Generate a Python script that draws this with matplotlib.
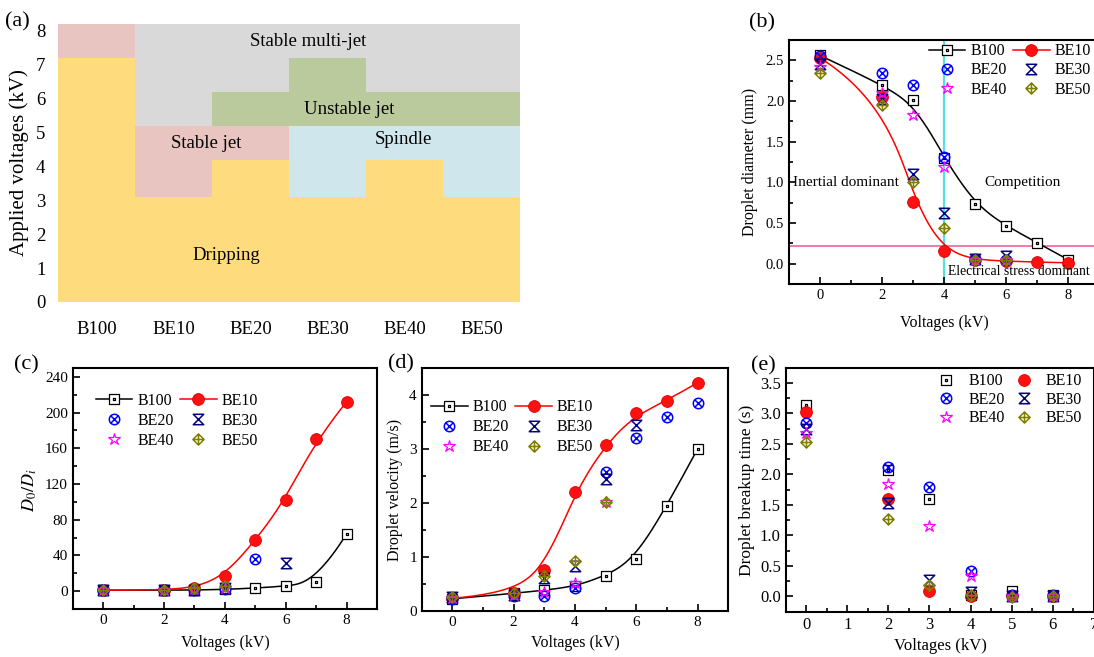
import numpy as np
import matplotlib
matplotlib.use('Agg')
import matplotlib.pyplot as plt
from matplotlib.path import Path
from matplotlib.lines import Line2D
from matplotlib.ticker import MultipleLocator

plt.rcParams['font.family'] = ['Liberation Serif', 'DejaVu Serif']
plt.rcParams['mathtext.fontset'] = 'stix'

# ---------------- data ----------------
# (a) operating regimes, stacked segment heights (kV)
categories = ['B100', 'BE10', 'BE20', 'BE30', 'BE40', 'BE50']
dripping = [7.2, 3.1, 4.2, 3.1, 4.2, 3.1]
stable_jet = [1.0, 2.1, 1.0, 0.0, 0.0, 0.0]
spindle = [0.0, 0.0, 0.0, 2.1, 1.0, 2.1]
unstable_jet = [0.0, 0.0, 1.0, 2.0, 1.0, 1.0]
multi_jet = [0.0, 3.0, 2.0, 1.0, 2.0, 2.0]
y_ticks_a = [0, 1, 2, 3, 4, 5, 6, 7, 8]

series_names = ['B100', 'BE10', 'BE20', 'BE30', 'BE40', 'BE50']

# (b) droplet diameter (mm)
volt_b_full = [0, 2, 3, 4, 5, 6, 7, 8]
diam_B100 = [2.56, 2.20, 2.01, 1.30, 0.73, 0.46, 0.26, 0.05]
diam_BE10 = [2.53, 2.05, 0.76, 0.16, 0.05, 0.03, 0.02, 0.01]
volt_b_part = [0, 2, 3, 4, 5, 6]
diam_BE20 = [2.55, 2.34, 2.20, 1.31, 0.06, 0.05]
diam_BE30 = [2.46, 2.03, 1.10, 0.62, 0.06, 0.10]
diam_BE40 = [2.42, 2.10, 1.83, 1.19, 0.05, 0.05]
diam_BE50 = [2.35, 1.95, 1.00, 0.44, 0.05, 0.05]
threshold_voltage = 4.0
threshold_diameter = 0.22

# (c) D0/Di
volt_c_full = [0, 2, 3, 4, 5, 6, 7, 8]
ratio_B100 = [1, 1.1, 1.3, 1.9, 3.5, 5.5, 10, 64]
ratio_BE10 = [1, 1.2, 3.3, 17.5, 57, 102, 170, 212]
volt_c_BE20 = [0, 2, 3, 4, 5]
ratio_BE20 = [1, 1, 1.2, 1.9, 36]
volt_c_BE30 = [0, 2, 3, 4, 6]
ratio_BE30 = [1, 1, 1.5, 4, 31]
volt_c_rest = [0, 2, 3, 4]
ratio_BE40 = [1, 1, 2, 3]
ratio_BE50 = [1, 1, 3, 6]

# (d) droplet velocity (m/s)
volt_d_full = [0, 2, 3, 4, 5, 6, 7, 8]
vel_B100 = [0.22, 0.32, 0.38, 0.45, 0.65, 0.96, 1.95, 3.00]
vel_BE10 = [0.23, 0.33, 0.75, 2.21, 3.08, 3.66, 3.89, 4.23]
vel_BE20 = [0.22, 0.27, 0.27, 0.42, 2.57, 3.20, 3.60, 3.86]
volt_d_BE30 = [0, 2, 3, 4, 5, 6]
vel_BE30 = [0.25, 0.30, 0.60, 0.83, 2.44, 3.45]
volt_d_rest = [0, 2, 3, 4, 5]
vel_BE40 = [0.24, 0.30, 0.35, 0.52, 2.02]
vel_BE50 = [0.25, 0.32, 0.65, 0.92, 2.02]

# (e) droplet breakup time (s)
volt_e = [0, 2, 3, 4, 5, 6]
time_B100 = [3.14, 2.08, 1.59, 0.02, 0.09, 0.03]
time_BE10 = [3.03, 1.60, 0.09, 0.00, 0.00, 0.00]
time_BE20 = [2.84, 2.12, 1.79, 0.42, 0.02, 0.03]
time_BE30 = [2.75, 1.53, 0.27, 0.08, 0.00, 0.01]
time_BE40 = [2.68, 1.85, 1.15, 0.34, 0.00, 0.00]
time_BE50 = [2.54, 1.27, 0.19, 0.02, -0.01, 0.00]

# ---------------- markers & styles ----------------
M, L, C = Path.MOVETO, Path.LINETO, Path.CLOSEPOLY
sq_dot = Path([(-1, -1), (1, -1), (1, 1), (-1, 1), (-1, -1),
               (-0.12, -0.12), (0.12, -0.12), (0.12, 0.12), (-0.12, 0.12), (-0.12, -0.12)],
              [M, L, L, L, C, M, L, L, L, C])
circ = Path.unit_circle()
d = 0.7071
circ_x = Path.make_compound_path(circ, Path([(-d, -d), (d, d)], [M, L]),
                                 Path([(-d, d), (d, -d)], [M, L]))
hourglass = Path([(-1, 1), (1, 1), (-1, -1), (1, -1), (-1, 1)], [M, L, L, L, C])
diamond_plus = Path([(0, 1), (1, 0), (0, -1), (-1, 0), (0, 1),
                     (0, 1), (0, -1), (-1, 0), (1, 0)],
                    [M, L, L, L, C, M, L, M, L])

styles = {
    'B100': dict(marker=sq_dot, ms=6.5, mfc='white', mec='black', mew=0.9),
    'BE10': dict(marker='o', ms=8.5, mfc='#ff1010', mec='#e00000', mew=0.6),
    'BE20': dict(marker=circ_x, ms=7.5, mfc='none', mec='#0000ff', mew=1.1),
    'BE30': dict(marker=hourglass, ms=7.5, mfc='none', mec='#000080', mew=1.1),
    'BE40': dict(marker='*', ms=9, mfc='none', mec='#ff00ff', mew=0.9),
    'BE50': dict(marker=diamond_plus, ms=8, mfc='none', mec='#808000', mew=1.1),
}
line_colors = {'B100': 'black', 'BE10': 'red'}


def bspline(x, y, num=300, k=3):
    P = np.column_stack([x, y]).astype(float)
    n = len(P)
    k = min(k, n - 1)
    knots = np.concatenate([np.zeros(k), np.linspace(0, 1, n - k + 1), np.ones(k)])
    t = np.linspace(0, 1, num)
    t[-1] = 1 - 1e-10
    B = np.zeros((num, len(knots) - 1))
    for i in range(len(knots) - 1):
        B[:, i] = (knots[i] <= t) & (t < knots[i + 1])
    for dd in range(1, k + 1):
        Bn = np.zeros((num, len(knots) - 1 - dd))
        for i in range(len(knots) - 1 - dd):
            a = knots[i + dd] - knots[i]
            b = knots[i + dd + 1] - knots[i + 1]
            term = np.zeros(num)
            if a > 0:
                term += (t - knots[i]) / a * B[:, i]
            if b > 0:
                term += (knots[i + dd + 1] - t) / b * B[:, i + 1]
            Bn[:, i] = term
        B = Bn
    return B @ P


W, H = 1094, 657
fig = plt.figure(figsize=(W / 100, H / 100), dpi=100)


def px_axes(l, t, r, b):
    return fig.add_axes([l / W, 1 - b / H, (r - l) / W, (b - t) / H])


def ftext(x, y, s, **kw):
    fig.text(x / W, 1 - y / H, s, **kw)


def style_axes(ax, labelsize):
    for sp in ax.spines.values():
        sp.set_linewidth(1.5)
    ax.tick_params(which='both', direction='in', top=False, right=False,
                   labelsize=labelsize, width=1.2)
    ax.tick_params(which='major', length=5)
    ax.tick_params(which='minor', length=3)


def plot_series(ax, name, x, y, with_line=False):
    st = styles[name]
    if with_line:
        cur = bspline(x, y)
        ax.plot(cur[:, 0], cur[:, 1], color=line_colors[name], lw=1.1, zorder=2)
    ax.plot(x, y, linestyle='none', zorder=3, **st)


def make_handles(with_lines):
    hs = {}
    for n in series_names:
        ls = '-' if (with_lines and n in line_colors) else 'none'
        hs[n] = Line2D([], [], linestyle=ls, color=line_colors.get(n, 'k'), lw=1.1, **styles[n])
    order = ['B100', 'BE20', 'BE40', 'BE10', 'BE30', 'BE50']
    return [hs[o] for o in order], order


# ---------------- (a) ----------------
axa = px_axes(58, 24, 520, 302)
xa = np.arange(len(categories))
seg_colors = ['#FEDC7D', '#E9C5C1', '#CFE6EC', '#BBCA9C', '#D9D9D9']
bottom = np.zeros(len(categories))
for seg, col in zip([dripping, stable_jet, spindle, unstable_jet, multi_jet], seg_colors):
    axa.bar(xa, seg, width=1.0, bottom=bottom, color=col, linewidth=0)
    bottom += np.array(seg)
axa.set_xlim(-0.5, 5.5)
axa.set_ylim(0, 8.2)
for sp in axa.spines.values():
    sp.set_visible(False)
axa.set_xticks(xa)
axa.set_xticklabels(categories)
axa.set_yticks(y_ticks_a)
axa.tick_params(length=0, labelsize=13.5)
axa.tick_params(axis='x', pad=14)
axa.tick_params(axis='y', pad=9)
axa.set_ylabel('Applied voltages (kV)', fontsize=15, labelpad=5)
for s, x, y in [('Stable multi-jet', 2.75, 7.67), ('Unstable jet', 3.28, 5.69),
                ('Stable jet', 1.42, 4.68), ('Spindle', 3.99, 4.8), ('Dripping', 1.69, 1.36)]:
    axa.text(x, y, s, ha='center', va='center', fontsize=13.5)

# ---------------- (b) ----------------
axb = px_axes(789, 40, 1099, 284)
axb.axvline(threshold_voltage, color='#55E0E8', lw=1.6, zorder=1.5)
axb.axhline(threshold_diameter, color='#F06EAA', lw=1.3, zorder=1.5)
plot_series(axb, 'B100', volt_b_full, diam_B100, True)
plot_series(axb, 'BE10', volt_b_full, diam_BE10, True)
plot_series(axb, 'BE20', volt_b_part, diam_BE20)
plot_series(axb, 'BE30', volt_b_part, diam_BE30)
plot_series(axb, 'BE40', volt_b_part, diam_BE40)
plot_series(axb, 'BE50', volt_b_part, diam_BE50)
axb.set_xlim(-1, 9)
axb.set_ylim(-0.25, 2.75)
axb.set_xticks([0, 2, 4, 6, 8])
axb.xaxis.set_minor_locator(MultipleLocator(1))
axb.set_yticks([0, 0.5, 1.0, 1.5, 2.0, 2.5])
axb.yaxis.set_minor_locator(MultipleLocator(0.25))
axb.yaxis.set_major_formatter(matplotlib.ticker.FormatStrFormatter('%.1f'))
style_axes(axb, 10.5)
axb.text(0.83, 1.0, 'Inertial dominant', ha='center', va='center', fontsize=11)
axb.text(6.55, 1.0, 'Competition', ha='center', va='center', fontsize=11)
axb.text(6.4, -0.10, 'Electrical stress dominant', ha='center', va='center', fontsize=9.8)
hs, labs = make_handles(True)
axb.legend(hs, labs, ncol=2, loc='upper left', bbox_to_anchor=(0.44, 1.0), frameon=False,
           fontsize=11.5, handlelength=2.3, handletextpad=0.3, columnspacing=0.4,
           labelspacing=0.2, borderaxespad=0, borderpad=0.2)
ftext(750, 162, 'Droplet diameter (mm)', rotation=90, ha='center', va='center', fontsize=11.5)
ftext(944, 323, 'Voltages (kV)', ha='center', va='center', fontsize=11.5)

# ---------------- (c) ----------------
axc = px_axes(72.7, 368, 377, 609)
plot_series(axc, 'B100', volt_c_full, ratio_B100, True)
plot_series(axc, 'BE10', volt_c_full, ratio_BE10, True)
plot_series(axc, 'BE20', volt_c_BE20, ratio_BE20)
plot_series(axc, 'BE30', volt_c_BE30, ratio_BE30)
plot_series(axc, 'BE40', volt_c_rest, ratio_BE40)
plot_series(axc, 'BE50', volt_c_rest, ratio_BE50)
axc.set_xlim(-1, 9)
axc.set_ylim(-20, 250)
axc.set_xticks([0, 2, 4, 6, 8])
axc.xaxis.set_minor_locator(MultipleLocator(1))
axc.set_yticks([0, 40, 80, 120, 160, 200, 240])
axc.yaxis.set_minor_locator(MultipleLocator(20))
style_axes(axc, 11)
hs, labs = make_handles(True)
axc.legend(hs, labs, ncol=2, loc='upper left', bbox_to_anchor=(0.065, 0.91), frameon=False,
           fontsize=11.5, handlelength=2.3, handletextpad=0.3, columnspacing=0.4,
           labelspacing=0.25, borderaxespad=0, borderpad=0.2)
ftext(30, 490, r'$D_{\mathit{0}}/D_i$', rotation=90, ha='center', va='center', fontsize=13)
ftext(225, 643, 'Voltages (kV)', ha='center', va='center', fontsize=11.5)

# ---------------- (d) ----------------
axd = px_axes(421.7, 368, 728.3, 610.7)
plot_series(axd, 'B100', volt_d_full, vel_B100, True)
plot_series(axd, 'BE10', volt_d_full, vel_BE10, True)
plot_series(axd, 'BE20', volt_d_full, vel_BE20)
plot_series(axd, 'BE30', volt_d_BE30, vel_BE30)
plot_series(axd, 'BE40', volt_d_rest, vel_BE40)
plot_series(axd, 'BE50', volt_d_rest, vel_BE50)
axd.set_xlim(-1, 9)
axd.set_ylim(0, 4.5)
axd.set_xticks([0, 2, 4, 6, 8])
axd.xaxis.set_minor_locator(MultipleLocator(1))
axd.set_yticks([0, 1, 2, 3, 4])
axd.yaxis.set_minor_locator(MultipleLocator(0.5))
style_axes(axd, 11)
hs, labs = make_handles(True)
axd.legend(hs, labs, ncol=2, loc='upper left', bbox_to_anchor=(0.02, 0.885), frameon=False,
           fontsize=11.5, handlelength=2.3, handletextpad=0.3, columnspacing=0.4,
           labelspacing=0.25, borderaxespad=0, borderpad=0.2)
ftext(395, 490, 'Droplet velocity (m/s)', rotation=90, ha='center', va='center', fontsize=11.5)
ftext(575, 643, 'Voltages (kV)', ha='center', va='center', fontsize=11.5)

# ---------------- (e) ----------------
axe = px_axes(785.7, 367.7, 1093.8, 611.7)
for n, t in zip(series_names, [time_B100, time_BE10, time_BE20, time_BE30, time_BE40, time_BE50]):
    plot_series(axe, n, volt_e, t)
axe.set_xlim(-0.5, 7)
axe.set_ylim(-0.25, 3.75)
axe.set_xticks([0, 1, 2, 3, 4, 5, 6, 7])
axe.xaxis.set_minor_locator(MultipleLocator(0.5))
axe.set_yticks([0, 0.5, 1.0, 1.5, 2.0, 2.5, 3.0, 3.5])
axe.yaxis.set_minor_locator(MultipleLocator(0.25))
axe.yaxis.set_major_formatter(matplotlib.ticker.FormatStrFormatter('%.1f'))
style_axes(axe, 12)
hs, labs = make_handles(False)
axe.legend(hs, labs, ncol=2, loc='upper left', bbox_to_anchor=(0.475, 0.99), frameon=False,
           fontsize=11.5, handlelength=1.4, handletextpad=0.7, columnspacing=0.45,
           labelspacing=0.15, borderaxespad=0, borderpad=0.2)
ftext(747, 490, 'Droplet breakup time (s)', rotation=90, ha='center', va='center', fontsize=12.5)
ftext(940, 646, 'Voltages (kV)', ha='center', va='center', fontsize=12)

# panel labels
for s, x, y in [('(a)', 17, 22), ('(b)', 762, 23), ('(c)', 26, 365), ('(d)', 401, 364), ('(e)', 763, 366)]:
    ftext(x, y, s, ha='center', va='center', fontsize=16)

fig.savefig('out.png', dpi=100)
